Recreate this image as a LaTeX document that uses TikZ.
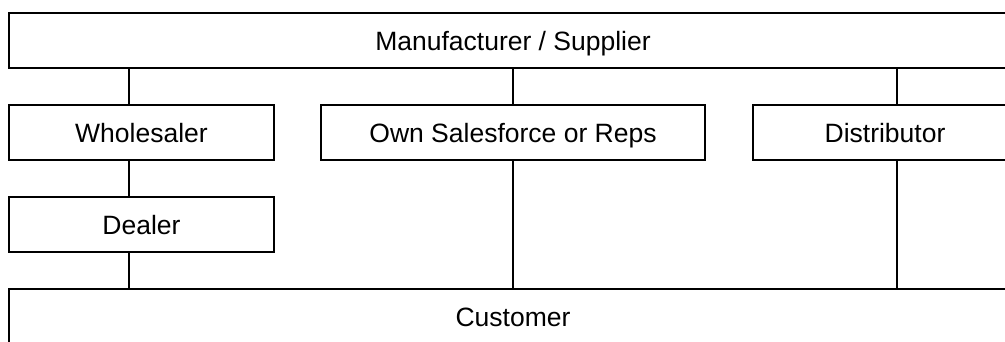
\documentclass[tikz,border=0pt]{standalone}
\usepackage{fontspec}
\setmainfont{Liberation Sans}
\begin{document}
\begin{tikzpicture}[x=1pt,y=-1pt,
  box/.style={draw=black, line width=1.5pt, rectangle, inner sep=0pt, outer sep=0pt,
    minimum height=55pt, text height=19pt, text depth=0pt, font=\fontsize{26.5}{30}\selectfont},
  link/.style={draw=black, line width=1.5pt}]
\useasboundingbox (0,0) rectangle (1005,341);
\clip (0,0) rectangle (1005,341);
\node[box, minimum width=1008pt] (manu) at (513,40.5) {Manufacturer / Supplier};
\node[box, minimum width=265pt] (whole) at (141.5,132.5) {Wholesaler};
\node[box, minimum width=384pt] (own) at (513,132.5) {Own Salesforce or Reps};
\node[box, minimum width=264pt] (dist) at (885,132.5) {Distributor};
\node[box, minimum width=265pt] (dealer) at (141.5,224.5) {Dealer};
\node[box, minimum width=1008pt] (cust) at (513,316.5) {Customer};
\coordinate (c1) at (129,0);
\coordinate (c2) at (513,0);
\coordinate (c3) at (897,0);
\draw[link] (manu.south -| c1) -- (whole.north -| c1);
\draw[link] (whole.south -| c1) -- (dealer.north -| c1);
\draw[link] (dealer.south -| c1) -- (cust.north -| c1);
\draw[link] (manu.south -| c2) -- (own.north -| c2);
\draw[link] (own.south -| c2) -- (cust.north -| c2);
\draw[link] (manu.south -| c3) -- (dist.north -| c3);
\draw[link] (dist.south -| c3) -- (cust.north -| c3);
\end{tikzpicture}
\end{document}
